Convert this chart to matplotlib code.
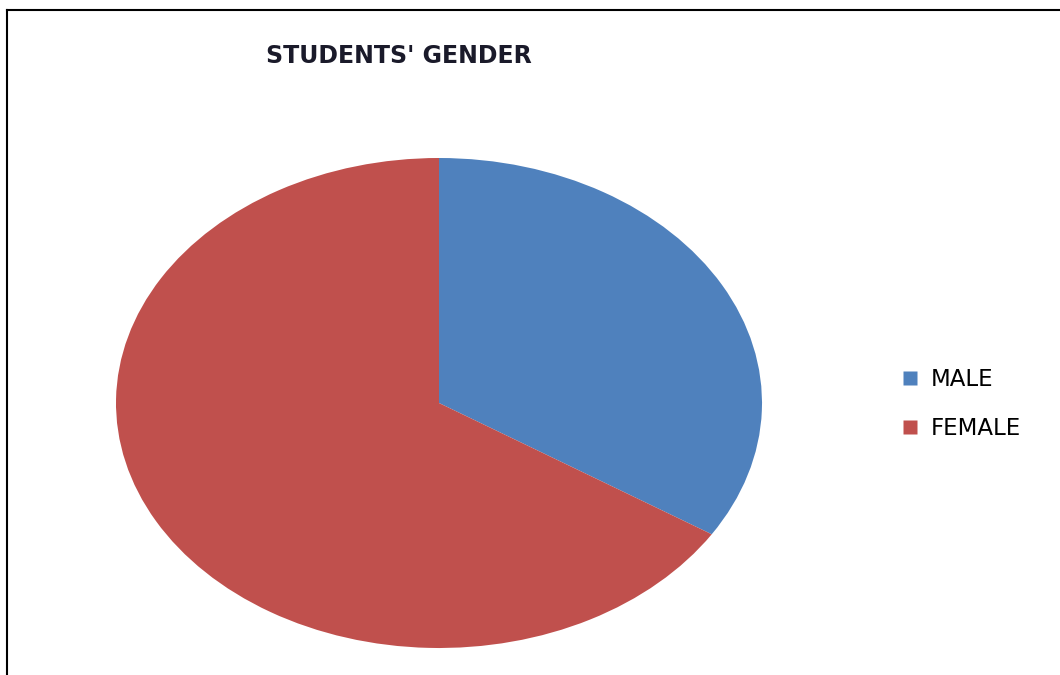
import matplotlib
matplotlib.use('Agg')
import matplotlib.pyplot as plt
from matplotlib.lines import Line2D

labels = ['MALE', 'FEMALE']
shares = [34, 66]
colors = ['#4F81BD', '#C0504D']

fig = plt.figure(figsize=(10.6, 6.75), dpi=100)

# pie is stretched sideways in the original, so no equal aspect
ax = fig.add_axes([116 / 1060, 27 / 675, 646 / 1060, 490 / 675])
wedges, _ = ax.pie(shares, colors=colors, startangle=90, counterclock=False,
                   radius=1, wedgeprops={'linewidth': 0})
ax.set_aspect('auto')
ax.set_xlim(-1, 1)
ax.set_ylim(-1, 1)
ax.axis('off')

fig.text(399 / 1060, 1 - 56 / 675, "STUDENTS' GENDER", ha='center', va='center',
         fontsize=17, fontweight='bold', family='DejaVu Sans', color='#1a1a2a')

handles = [Line2D([], [], linestyle='none', marker='s', markersize=10,
                  markerfacecolor=c, markeredgecolor='none') for c in colors]
fig.legend(handles, labels, loc='center left', bbox_to_anchor=(901 / 1060, 1 - 404 / 675),
           frameon=False, fontsize=16.5, handlelength=0.8, handletextpad=0.5,
           labelspacing=1.15, borderpad=0, borderaxespad=0)

# frame lines on top and left only
fig.add_artist(Line2D([7 / 1060, 1], [1 - 10 / 675, 1 - 10 / 675], color='black', lw=1.5))
fig.add_artist(Line2D([7 / 1060, 7 / 1060], [0, 1 - 10 / 675], color='black', lw=1.5))

plt.savefig('out.png')
